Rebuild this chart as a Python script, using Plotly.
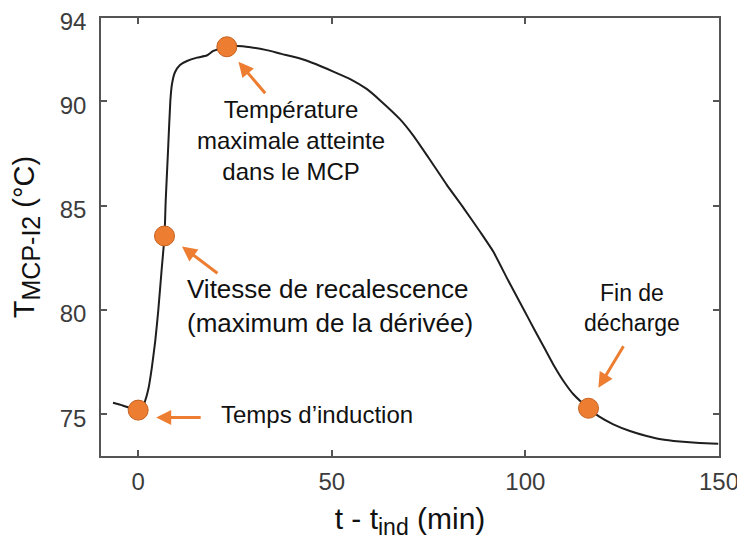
import plotly.graph_objects as go

# ---- data ----
time_min = [-6.5, -4, -2, 0, 1, 1.8, 2.7, 3.5, 4.4, 5.2, 6, 6.8, 7.1, 7.7, 8.3, 8.7,
            9.5, 10.8, 12.6, 15.2, 17.7, 19.4, 22.9, 25.5, 29, 33.2, 37, 41.8, 46,
            50.4, 55, 59, 62.5, 67.6, 71.1, 75, 79.7, 84, 88.3, 91.7, 95.6, 99.5,
            102.1, 104.7, 107.2, 110, 112.4, 116.3, 119, 122.7, 127, 131.3, 135,
            139.9, 145, 149.8]
temp_c = [75.55, 75.42, 75.3, 75.2, 75.3, 75.64, 76.27, 77.2, 78.5, 80.0, 81.8, 83.55,
          85.2, 87.6, 90.0, 90.8, 91.4, 91.75, 91.94, 92.1, 92.2, 92.42, 92.62, 92.66,
          92.6, 92.46, 92.28, 92.06, 91.78, 91.43, 91.05, 90.6, 90.05, 89.15, 88.35,
          87.3, 86.0, 84.9, 83.75, 82.8, 81.4, 80.05, 79.14, 78.25, 77.39, 76.55,
          75.96, 75.29, 74.9, 74.52, 74.2, 73.96, 73.8, 73.69, 73.62, 73.59]

key_t = [0, 6.8, 22.9, 116.3]
key_T = [75.2, 83.55, 92.62, 75.29]

x_ticks = [0, 50, 100, 150]
y_ticks = [75, 80, 85, 90, 94]

labels = ["Temps d’induction",
          "Vitesse de recalescence<br>(maximum de la dérivée)",
          "Température<br>maximale atteinte<br>dans le MCP",
          "Fin de<br>décharge"]

FONT = "Arial, 'Liberation Sans', sans-serif"
ORANGE = "#ED7D31"
AXC = "#555555"

fig = go.Figure()
fig.add_trace(go.Scatter(x=time_min, y=temp_c, mode="lines",
                         line=dict(color="#1e1e1e", width=2, shape="spline", smoothing=0.5),
                         hoverinfo="skip"))
fig.add_trace(go.Scatter(x=key_t, y=key_T, mode="markers",
                         marker=dict(size=20, color=ORANGE,
                                     line=dict(color="#C5611E", width=1))))

# arrows (head in data coords, tail as pixel offset)
arrows = [
    (4.65, 74.84, 46, 0),
    (11.3, 83.05, 37, 28),
    (25.9, 91.9, 28, 33),
    (118.85, 76.27, 26, -43),
]
for hx, hy, ax, ay in arrows:
    fig.add_annotation(x=hx, y=hy, ax=ax, ay=ay, axref="pixel", ayref="pixel",
                       text="", showarrow=True, arrowhead=2, arrowsize=1,
                       arrowwidth=3, arrowcolor=ORANGE, standoff=0)

def tfont(size):
    return dict(family=FONT, size=size, color="#111111")

fig.add_annotation(x=20.9, y=74.97, text=labels[0], showarrow=False,
                   xanchor="left", yanchor="middle", font=tfont(24))
fig.add_annotation(x=12.1, y=80.2, text=labels[1], showarrow=False,
                   xanchor="left", yanchor="middle", align="left", font=tfont(26))
fig.add_annotation(x=39.5, y=88.12, text=labels[2], showarrow=False,
                   xanchor="center", yanchor="middle", align="center", font=tfont(24))
fig.add_annotation(x=127.5, y=80.12, text=labels[3], showarrow=False,
                   xanchor="center", yanchor="middle", align="center", font=tfont(23))

axis_common = dict(showline=True, linecolor=AXC, linewidth=1.5, mirror="ticks",
                   ticks="inside", ticklen=6, tickwidth=1.5, tickcolor=AXC,
                   showgrid=False, zeroline=False, automargin=False,
                   ticklabeloverflow="allow",
                   tickfont=dict(family=FONT, size=24, color="#3c3c3c"))

# page body has an 8px default margin, so the figure is sized to fit after that offset
fig.update_layout(
    width=737, height=538,
    margin=dict(l=93, r=26, t=10, b=90),
    paper_bgcolor="white", plot_bgcolor="white",
    showlegend=False,
    xaxis=dict(range=[-9.6, 150], tickvals=x_ticks, ticklabelstandoff=3,
               title=dict(text="t - t<sub><span style='font-size:23px'>ind</span></sub> (min)",
                          standoff=14,
                          font=dict(family=FONT, size=30, color="#111111")),
               **axis_common),
    yaxis=dict(range=[73, 94], tickvals=y_ticks, ticklabelstandoff=8, ticklabelshift=4,
               title=dict(text="T<sub><span style='font-size:25px'>MCP-I2</span></sub> (°C)",
                          standoff=19,
                          font=dict(family=FONT, size=29, color="#111111")),
               **axis_common),
)

fig.write_html("out.html")
